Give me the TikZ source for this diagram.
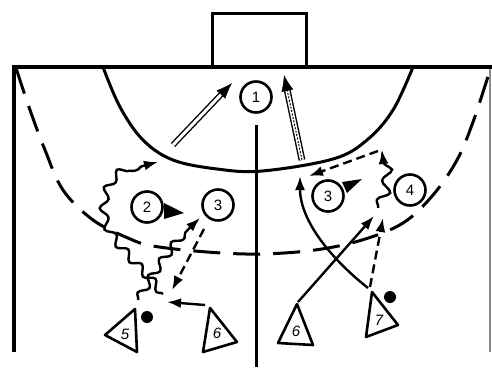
\documentclass[tikz,border=0pt]{standalone}
\usepackage{fontspec}
\setsansfont{Liberation Sans}
\usetikzlibrary{calc,arrows.meta,decorations.pathmorphing}

\begin{document}
\begin{tikzpicture}[x=1pt,y=-1pt]

\useasboundingbox (0,0) rectangle (492,367);

\tikzstyle{player}=[circle,draw,line width=2.6pt,minimum size=31pt,inner sep=0pt,font=\sffamily\fontsize{15}{15}\selectfont]
\tikzstyle{attacker}=[inner sep=0pt,font=\sffamily\itshape\fontsize{15}{15}\selectfont]
\tikzstyle{ball}=[circle,fill,minimum size=12pt,inner sep=0pt]
\tikzstyle{run}=[line width=2.4pt,-{Latex[length=14pt,width=10pt]}]
\tikzstyle{pass}=[line width=2.4pt,dash pattern=on 9pt off 5pt,-{Latex[length=14pt,width=10pt]}]
\tikzstyle{wavy}=[line width=2.4pt,decorate,decoration={snake,segment length=20pt,amplitude=4pt,post length=12pt},-{Latex[length=14pt,width=10pt]}]
\tikzstyle{double pass}=[line width=1.4pt,double,double distance=3pt]
\tikzstyle{head}=[line width=0.4pt,-{Latex[length=16pt,width=12pt]}]

\draw [line width=3pt] (212,67) -- (212,13) -- (306,13) -- (306,67);
\draw [line width=4.5pt] (14,352) -- (14,67) -- (492,67);
\draw [line width=1.5pt,black!45] (490,69) -- (490,352);

\draw [line width=3pt]  plot[smooth, tension=.6] coordinates { (103,67) (120,107) (143,140) (173,160) (217,169) (262,171) (333,159) (367,140) (393,110) (413,67) };

\draw [line width=3pt,dash pattern=on 27pt off 13pt]  plot[smooth, tension=.6] coordinates { (16,68) (30,110) (45,150) (63,190) (93,220) (128,238) (153,246) (207,252) (260,254) (315,250) (362,240) (403,223) (433,195) (457,160) (473,122) (490,70) };

\draw [line width=3pt] (256,125) -- (256,367);


\node (p1) [player] at (256,97) {1};
\node (p2) [player] at (147,207) {2};
\node (p3l) [player] at (218,205) {3};
\node (p3r) [player] at (328,196) {3};
\node (p4) [player] at (410,190) {4};

\fill (164,203) -- (184,213) -- (164,219) -- cycle;
\fill (342,182) -- (362,179) -- (347,193) -- cycle;

\draw [line width=2.6pt,line join=round] (105,335) -- (135,309) -- (137,352) -- cycle;
\node (a5) [attacker] at (125,334) {5};
\draw [line width=2.6pt,line join=round] (210,308) -- (237,342) -- (203,352) -- cycle;
\node (a6l) [attacker] at (217,333) {6};
\draw [line width=2.6pt,line join=round] (297,304) -- (313,345) -- (278,343) -- cycle;
\node (a6r) [attacker] at (296,331) {6};
\draw [line width=2.6pt,line join=round] (372,292) -- (398,325) -- (366,337) -- cycle;
\node (a7) [attacker] at (379,320) {7};

\node (ball5) [ball] at (147,317) {};
\node (ball7) [ball] at (390,297) {};


\coordinate (pass1 start) at (173,145);
\coordinate (pass1 end) at (232,83);
\draw [double pass] (pass1 start) -- ($(pass1 end)!13pt!(pass1 start)$);
\draw [head] ($(pass1 end)!15pt!(pass1 start)$) -- (pass1 end);

\coordinate (shot start) at (302,160);
\coordinate (shot end) at (284,75);
\draw [double pass,double distance=4pt] (shot start) -- ($(shot end)!13pt!(shot start)$);
\draw [line width=1pt,dash pattern=on 2pt off 1.5pt] (shot start) -- ($(shot end)!13pt!(shot start)$);
\draw [head] ($(shot end)!15pt!(shot start)$) -- (shot end);

\coordinate (wave5 start) at (138,300);
\coordinate (wave5 end) at (200,218);
\draw [wavy] (wave5 start) .. controls (155,270) and (180,235) .. (wave5 end);

\coordinate (wave2 start) at (163,294);
\coordinate (wave2 turn) at (107,212);
\coordinate (wave2 end) at (158,162);
\draw [wavy] (wave2 start) .. controls (140,265) and (105,240) .. (wave2 turn) .. controls (108,180) and (130,168) .. (wave2 end);

\coordinate (wave4 start) at (378,208);
\coordinate (wave4 end) at (382,150);
\draw [wavy,decoration={amplitude=5pt,segment length=22pt}] (wave4 start) .. controls (388,190) and (384,170) .. (wave4 end);

\coordinate (pass3 start) at (204,229);
\coordinate (pass3 end) at (172,290);
\draw [pass] (pass3 start) -- (pass3 end);

\coordinate (run6 start) at (205,305);
\coordinate (run6 end) at (167,302);
\draw [run] (run6 start) -- (run6 end);

\coordinate (run6r start) at (298,302);
\coordinate (run6r end) at (374,216);
\draw [run] (run6r start) -- (run6r end);

\coordinate (run7 start) at (368,288);
\coordinate (run7 end) at (300,176);
\draw [run] (run7 start) .. controls (330,258) and (300,220) .. (run7 end);

\coordinate (pass7 start) at (370,287);
\coordinate (pass7 end) at (383,218);
\draw [pass] (pass7 start) -- (pass7 end);

\coordinate (pass4 start) at (378,151);
\coordinate (pass4 end) at (309,176);
\draw [pass] (pass4 start) -- (pass4 end);

\end{tikzpicture}
\end{document}
